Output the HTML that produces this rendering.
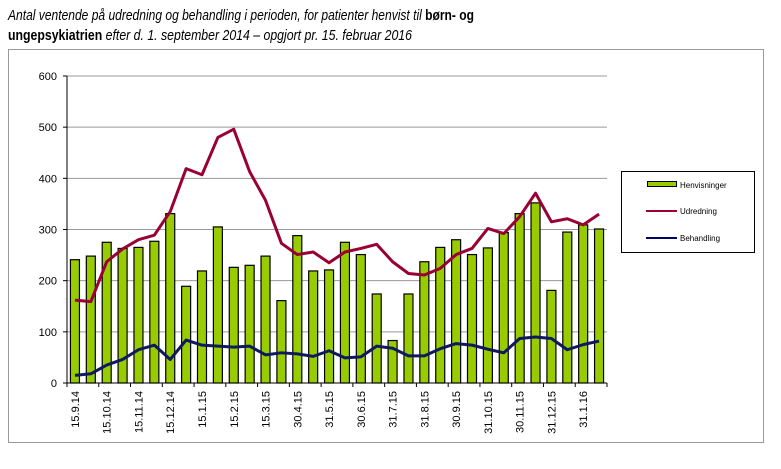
<!DOCTYPE html>
<html><head><meta charset="utf-8"><style>
body{margin:0;background:#fff;width:781px;height:469px;overflow:hidden}
svg{display:block;font-family:"Liberation Sans",Arial,sans-serif}
</style></head><body>
<svg id="chart" width="781" height="469" viewBox="0 0 781 469">
<text x="8" y="20" font-size="15" font-style="italic" textLength="466" lengthAdjust="spacingAndGlyphs">Antal ventende på udredning og behandling i perioden, for patienter henvist til <tspan font-weight="bold" font-style="normal">børn- og</tspan></text>
<text x="8" y="40" font-size="15" font-style="italic" textLength="404" lengthAdjust="spacingAndGlyphs"><tspan font-weight="bold" font-style="normal">ungepsykiatrien</tspan> efter d. 1. september 2014 – opgjort pr. 15. februar 2016</text>
<rect x="8.5" y="49.5" width="755" height="393" fill="#fff" stroke="#999"/>
<g id="grid"></g><g id="bars"></g><g id="lines"></g><g id="axes"></g>
<g>
<rect x="621.5" y="171.5" width="133" height="81" fill="#fff" stroke="#000"/>
<rect x="647.5" y="181.5" width="29" height="5" fill="#99cc00" stroke="#000"/>
<text x="680" y="188" font-size="8">Henvisninger</text>
<line x1="646" y1="211" x2="677" y2="211" stroke="#990033" stroke-width="2"/>
<text x="680" y="214" font-size="8">Udredning</text>
<line x1="646" y1="238" x2="677" y2="238" stroke="#000066" stroke-width="2"/>
<text x="680" y="241" font-size="8">Behandling</text>
</g>
</svg>
<script>
const henvisninger=[241,248,275,263,265,277,331,189,219,305,226,230,248,161,288,219,221,275,251,174,83,174,237,265,280,251,264,294,331,352,181,295,309,301];
const udredning=[162,159,237,262,280,289,335,419,407,480,496,413,357,273,251,256,235,256,263,271,237,214,211,224,251,263,302,292,325,371,315,321,309,330];
const behandling=[15,18,35,46,65,74,46,84,74,72,70,72,55,59,57,52,63,49,51,72,68,53,53,67,77,74,66,59,87,90,87,65,75,82];
const xLabels=["15.9.14","15.10.14","15.11.14","15.12.14","15.1.15","15.2.15","15.3.15","30.4.15","31.5.15","30.6.15","31.7.15","31.8.15","30.9.15","31.10.15","30.11.15","31.12.15","31.1.16"];
const yTicks=[0,100,200,300,400,500,600];
const NS="http://www.w3.org/2000/svg";
const L=67,R=607,T=76,B=383,YMAX=600;
const n=henvisninger.length,cw=(R-L)/n;
const xc=i=>L+cw*(i+0.5);
const y=v=>B-(v/YMAX)*(B-T);
function mk(tag,attrs,parent){const e=document.createElementNS(NS,tag);for(const k in attrs)e.setAttribute(k,attrs[k]);document.getElementById(parent).appendChild(e);return e;}
yTicks.forEach(t=>{
 if(t>0){const g=mk('line',{x1:L,x2:R,y1:y(t),y2:y(t),stroke:'#999','stroke-width':1},'grid');
 
 }
 const tk=mk('line',{x1:L-4,x2:L,y1:y(t),y2:y(t),stroke:'#000'},'axes');
 
 
 const lb=mk('text',{x:L-10,y:y(t)+4,'font-size':11,'text-anchor':'end'},'axes');lb.textContent=t;
 
 
});
henvisninger.forEach((v,i)=>{
 const b=mk('rect',{x:xc(i)-4.5,y:y(v),width:9,height:B-y(v),fill:'#99cc00',stroke:'#000','stroke-width':1.2},'bars');
 
 
});
function line(arr,col,name){
 const p=mk('polyline',{points:arr.map((v,i)=>xc(i)+','+y(v)).join(' '),fill:'none',stroke:col,'stroke-width':3,'stroke-linejoin':'round'},'lines');
 
 
}
line(udredning,'#990033','line-udredning');
line(behandling,'#0d1a5e','line-behandling');
const ax=mk('line',{x1:L,x2:L,y1:T,y2:B,stroke:'#000'},'axes');


const xa=mk('line',{x1:L,x2:R,y1:B,y2:B,stroke:'#000'},'axes');


for(let i=0;i<=n;i+=2){const tk=mk('line',{x1:L+cw*i,x2:L+cw*i,y1:B,y2:B+4,stroke:'#000'},'axes');
 
 }
xLabels.forEach((s,k)=>{
 const cx=xc(k*2)+4;
 const t=mk('text',{x:0,y:0,'font-size':11,'text-anchor':'end',transform:'translate('+cx+','+(B+8)+') rotate(-90)'},'axes');
 t.textContent=s;
 
 
});
</script>
</body></html>
